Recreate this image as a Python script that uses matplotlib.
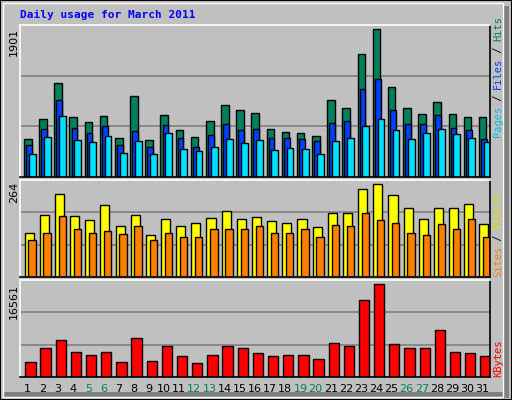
import matplotlib
matplotlib.use("Agg")
import matplotlib.pyplot as plt
from matplotlib.patches import Rectangle
import numpy as np

days = list(range(1, 32))
weekends = [5, 6, 12, 13, 19, 20, 26, 27]
hits = [479, 731, 1172, 756, 693, 769, 491, 1008, 466, 781, 592, 504, 706, 895, 844, 806,
        605, 567, 554, 517, 958, 869, 1537, 1852, 1121, 869, 794, 932, 794, 756, 756]
files = [403, 605, 958, 617, 554, 643, 403, 580, 378, 655, 491, 378, 529, 668, 592, 605,
         491, 491, 479, 454, 680, 706, 1096, 1222, 832, 668, 668, 781, 617, 592, 479]
pages = [290, 504, 769, 466, 441, 517, 302, 454, 290, 554, 353, 328, 378, 479, 428, 466,
         340, 365, 353, 290, 454, 491, 643, 731, 592, 479, 554, 605, 542, 491, 441]
visits = [119, 168, 226, 165, 154, 195, 138, 168, 113, 157, 138, 146, 160, 179, 157, 163,
          152, 146, 157, 135, 173, 173, 239, 253, 223, 187, 157, 187, 187, 198, 143]
sites = [100, 119, 165, 132, 121, 124, 116, 138, 100, 121, 108, 108, 130, 130, 132, 138,
         121, 121, 132, 108, 141, 138, 173, 154, 146, 121, 113, 143, 132, 157, 110]
kbytes = [2490, 4922, 6311, 4227, 3706, 4227, 2490, 6659, 2663, 5269, 3532, 2316, 3706, 5269,
          4922, 4053, 3532, 3706, 3706, 3011, 5790, 5269, 13085, 15865, 5616, 4922, 4922, 8048,
          4227, 4053, 3532]
max_hits, max_visits, max_kb = 1901, 264, 16561

W, H = 512, 400
fig = plt.figure(figsize=(W/100, H/100), dpi=100)
fig.patch.set_facecolor('#C0C0C0')
# 3D frame
fig.add_artist(Rectangle((0, 0), 1, 1, transform=fig.transFigure, fill=False, ec='black', lw=1.5))
fig.add_artist(Rectangle((503/W, 2/H), 6/W, 1-8/H, transform=fig.transFigure, fc='#808080', ec='none'))
fig.add_artist(Rectangle((4/W, 2/H), 1-9/W, 6/H, transform=fig.transFigure, fc='#808080', ec='none'))
fig.add_artist(Rectangle((3/W, 3/H), 1-12/W, 1-6/H, transform=fig.transFigure, fill=False, ec='white', lw=1))

def fy(py):
    return 1 - py/H

def mkax(top, bot):
    ax = fig.add_axes([20/W, fy(bot), 470/W, (bot-top)/H])
    ax.set_facecolor('#C0C0C0')
    ax.set_xlim(0.5, 31.5)
    ax.set_xticks([]); ax.set_yticks([])
    for s in ax.spines.values():
        s.set_color('black'); s.set_linewidth(1.2)
    ax.spines['left'].set_color('white'); ax.spines['top'].set_color('white')
    return ax

x = np.array(days)
bk = dict(edgecolor='black', linewidth=1.0, align='edge')

ax1 = mkax(25, 177)
ax1.set_ylim(0, max_hits)
for g in (max_hits/3, 2*max_hits/3):
    ax1.axhline(g, color='#808080', lw=1.2, zorder=0)
ax1.bar(x-0.236, hits, 0.5, color='#00805C', **bk)
ax1.bar(x-0.1, files, 0.38, color='#0040FF', **bk)
ax1.bar(x+0.08, pages, 0.45, color='#00E0FF', **bk)

ax2 = mkax(180, 277)
ax2.set_ylim(0, max_visits)
for g in (max_visits/3, 2*max_visits/3):
    ax2.axhline(g, color='#808080', lw=1.2, zorder=0)
ax2.bar(x-0.2, visits, 0.6, color='#FFFF00', **bk)
ax2.bar(x+0.05, sites, 0.48, color='#FF8000', **bk)

ax3 = mkax(280, 377)
ax3.set_ylim(0, max_kb)
for g in (max_kb/3, 2*max_kb/3):
    ax3.axhline(g, color='#808080', lw=1.2, zorder=0)
ax3.bar(x-0.15, kbytes, 0.68, color='#FF0000', **bk)

mono = 'DejaVu Sans Mono'
fig.text(20/W, fy(15), 'Daily usage for March 2011', color='#0000FF', family=mono,
         fontsize=8, fontweight='bold', va='center', ha='left')

for lab, top in ((str(max_hits), 28), (str(max_visits), 182), (str(max_kb), 284)):
    fig.text(14/W, fy(top), lab, rotation=90, ha='center', va='top', fontsize=8, color='black')

def vlabel(y0, parts):
    cw = 6.0
    pos = 0
    for txt, col in parts:
        fig.text(498/W, fy(y0 - pos*cw), txt, rotation=90, ha='center', va='bottom',
                 family=mono, fontsize=7.5, color=col)
        pos += len(txt)

vlabel(137, [('Pages', '#00C0E0'), (' / ', 'black'), ('Files', '#0040FF'),
             (' / ', 'black'), ('Hits', '#00805C')])
vlabel(277, [('Sites', '#FF8000'), (' / ', 'black'), ('Visits', '#E0E000')])
vlabel(377, [('KBytes', '#FF0000')])

for d in days:
    xp = (20 + (d - 0.5) * 470/31) / W
    fig.text(xp, fy(389), str(d), ha='center', va='center', fontsize=8,
             color='#00805C' if d in weekends else 'black')

fig.savefig('out.png', dpi=100, facecolor=fig.get_facecolor())
